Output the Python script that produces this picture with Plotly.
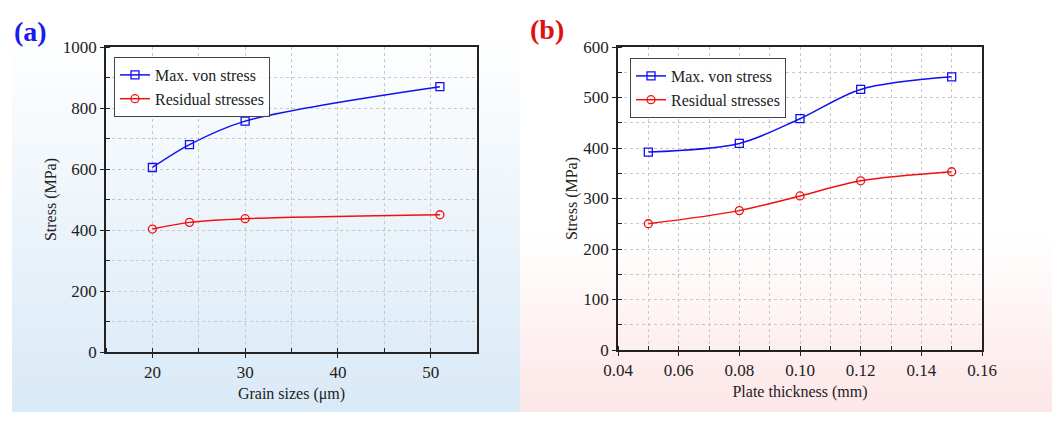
"""Two-panel stress plot: grain size and plate thickness vs. stress."""

import base64

import plotly.graph_objects as go

# panel (a): grain size
grain_um = [20, 24, 30, 51]
grain_max_von = [605, 680, 757, 870]
grain_residual = [403, 425, 437, 450]

# panel (b): plate thickness
thick_mm = [0.05, 0.08, 0.10, 0.12, 0.15]
thick_max_von = [392, 409, 458, 516, 541]
thick_residual = [250, 276, 305, 335, 353]

SERIES_NAMES = ["Max. von stress", "Residual stresses"]
BLUE = "#1010F0"
RED = "#F01010"
FONT = "Liberation Serif, Times New Roman, serif"

W, H = 1060, 423
PAGE_OFFSET = 8  # default body margin of the html page


def gradient_uri(top, mid_stop, bottom):
    svg = (
        '<svg xmlns="http://www.w3.org/2000/svg" width="100" height="100" preserveAspectRatio="none">'
        '<defs><linearGradient id="g" x1="0" y1="0" x2="0" y2="1">'
        f'<stop offset="0" stop-color="{top}"/>'
        f'<stop offset="{mid_stop}" stop-color="{top}"/>'
        f'<stop offset="1" stop-color="{bottom}"/>'
        '</linearGradient></defs>'
        '<rect width="100" height="100" fill="url(#g)"/></svg>'
    )
    return "data:image/svg+xml;base64," + base64.b64encode(svg.encode()).decode()


# screen pixel -> paper fraction
def px_x(p):
    return (p - PAGE_OFFSET) / W


def px_y(p):
    return 1 - (p - PAGE_OFFSET) / H


fig = go.Figure()

for xs, ys, color, symbol, name, xa, ya, leg in [
    (grain_um, grain_max_von, BLUE, "square-open", SERIES_NAMES[0], "x", "y", "legend"),
    (grain_um, grain_residual, RED, "circle-open", SERIES_NAMES[1], "x", "y", "legend"),
    (thick_mm, thick_max_von, BLUE, "square-open", SERIES_NAMES[0], "x2", "y2", "legend2"),
    (thick_mm, thick_residual, RED, "circle-open", SERIES_NAMES[1], "x2", "y2", "legend2"),
]:
    fig.add_trace(go.Scatter(
        x=xs, y=ys,
        name=name,
        mode="lines+markers",
        line=dict(color=color, width=1.5, shape="spline", smoothing=0.9),
        marker=dict(symbol=symbol, size=8, color=color, line=dict(width=1.3, color=color)),
        xaxis=xa, yaxis=ya,
        legend=leg,
    ))

axis_common = dict(
    showline=True,
    linecolor="#222",
    linewidth=1.5,
    mirror=True,
    ticks="outside",
    ticklen=4,
    tickwidth=1.2,
    tickcolor="#222",
    showgrid=True,
    gridcolor="#c8c8c8",
    griddash="dot",
    gridwidth=1,
    zeroline=False,
    automargin=False,
    tickfont=dict(family=FONT, size=17, color="#222"),
)
minor_common = dict(
    ticks="inside", ticklen=4, tickwidth=1.2, tickcolor="#222",
    showgrid=True, gridcolor="#c8c8c8", griddash="dot", gridwidth=1,
)
title_font = dict(family=FONT, size=16, color="#222")

legend_common = dict(
    xanchor="left", yanchor="top",
    bgcolor="rgba(255,255,255,0.85)", bordercolor="#444", borderwidth=1,
    font=dict(family=FONT, size=16, color="#222"),
    tracegroupgap=0, itemwidth=30,
)

fig.update_layout(
    width=W, height=H,
    margin=dict(l=0, r=0, t=0, b=0, autoexpand=False),
    paper_bgcolor="white",
    plot_bgcolor="rgba(0,0,0,0)",
    font=dict(family=FONT, color="#222"),
    xaxis=dict(
        **axis_common,
        domain=[px_x(106), px_x(477)],
        range=[15, 55], dtick=10, tick0=0,
        minor=dict(**minor_common, dtick=5),
        anchor="y",
        title=dict(text="Grain sizes (μm)", font=title_font, standoff=7),
    ),
    yaxis=dict(
        **axis_common,
        domain=[px_y(352), px_y(47)],
        range=[0, 1000], dtick=200,
        minor=dict(**minor_common, dtick=100),
        anchor="x",
        title=dict(text="Stress (MPa)", font=title_font, standoff=2),
    ),
    xaxis2=dict(
        **axis_common,
        domain=[px_x(618), px_x(982)],
        range=[0.04, 0.16], dtick=0.02, tick0=0, tickformat=".2f",
        minor=dict(**minor_common, dtick=0.01),
        anchor="y2",
        title=dict(text="Plate thickness (mm)", font=title_font, standoff=7),
    ),
    yaxis2=dict(
        **axis_common,
        domain=[px_y(350), px_y(47)],
        range=[0, 600], dtick=100,
        minor=dict(**minor_common, dtick=50),
        anchor="x2",
        title=dict(text="Stress (MPa)", font=title_font, standoff=2),
    ),
    legend=dict(x=px_x(114), y=px_y(57), **legend_common),
    legend2=dict(x=px_x(630), y=px_y(58), **legend_common),
    images=[
        dict(
            source=gradient_uri("#ffffff", 0.05, "#d9e9f6"),
            xref="paper", yref="paper",
            x=px_x(12), y=px_y(14), sizex=(520 - 12) / W, sizey=(412 - 14) / H,
            xanchor="left", yanchor="top", sizing="stretch", layer="below",
        ),
        dict(
            source=gradient_uri("#ffffff", 0.55, "#fde6e7"),
            xref="paper", yref="paper",
            x=px_x(520), y=px_y(14), sizex=(1052 - 520) / W, sizey=(412 - 14) / H,
            xanchor="left", yanchor="top", sizing="stretch", layer="below",
        ),
    ],
    annotations=[
        dict(text="<b>(a)</b>", x=px_x(12), y=px_y(32), xref="paper", yref="paper",
             xanchor="left", yanchor="middle", showarrow=False,
             font=dict(family=FONT, size=28, color="#1a1aee")),
        dict(text="<b>(b)</b>", x=px_x(528), y=px_y(30), xref="paper", yref="paper",
             xanchor="left", yanchor="middle", showarrow=False,
             font=dict(family=FONT, size=28, color="#e01010")),
    ],
)

fig.write_html("out.html")
